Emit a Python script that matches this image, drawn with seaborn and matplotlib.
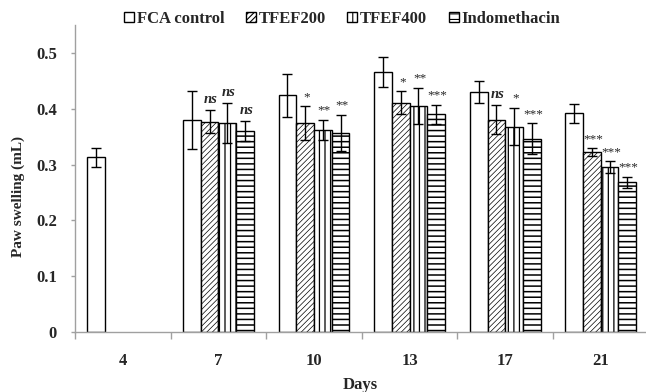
import numpy as np
import pandas as pd
import matplotlib
matplotlib.use("Agg")
import matplotlib.pyplot as plt
import seaborn as sns

# Data
days = ["4", "7", "10", "13", "17", "21"]
groups = ["FCA control", "TFEF200", "TFEF400", "Indomethacin"]

fca_mean = [0.313, 0.380, 0.424, 0.466, 0.430, 0.392]
fca_err = [0.017, 0.052, 0.039, 0.027, 0.020, 0.017]
tfef200_mean = [np.nan, 0.377, 0.374, 0.411, 0.380, 0.322]
tfef200_err = [np.nan, 0.020, 0.030, 0.020, 0.026, 0.007]
tfef400_mean = [np.nan, 0.374, 0.362, 0.405, 0.368, 0.295]
tfef400_err = [np.nan, 0.036, 0.018, 0.032, 0.033, 0.011]
indo_mean = [np.nan, 0.360, 0.357, 0.390, 0.346, 0.268]
indo_err = [np.nan, 0.018, 0.032, 0.017, 0.028, 0.010]

fca_sig = [None, None, None, None, None, None]
tfef200_sig = [None, "ns", "*", "*", "ns", "***"]
tfef400_sig = [None, "ns", "**", "**", "*", "***"]
indo_sig = [None, "ns", "**", "***", "***", "***"]

means = [fca_mean, tfef200_mean, tfef400_mean, indo_mean]
errs = [fca_err, tfef200_err, tfef400_err, indo_err]
sigs = [fca_sig, tfef200_sig, tfef400_sig, indo_sig]
hatches = ["", "//////", "|||", "---"]
hatch_lw = [0.8, 0.5, 0.9, 1.1]

rows = []
for g, m in zip(groups, means):
    for d, v in zip(days, m):
        rows.append({"Day": d, "Group": g, "Swelling": v})
df = pd.DataFrame(rows).dropna()

sns.set_style("white")
plt.rcParams['font.family'] = ['Liberation Serif', 'DejaVu Serif']
plt.rcParams['font.weight'] = 'bold'
plt.rcParams['hatch.linewidth'] = 0.8

fig = plt.figure(figsize=(6.46, 3.92), dpi=100)
ax = fig.add_axes([75 / 646, 60 / 392, 571 / 646, 307 / 392])

sns.barplot(data=df, x="Day", y="Swelling", hue="Group", order=days,
            hue_order=groups, width=0.74, errorbar=None, legend=False,
            palette=["white"] * 4, saturation=1, edgecolor="black",
            linewidth=1.0, ax=ax)

bar_conts = list(ax.containers)
for gi, cont in enumerate(bar_conts):
    for bar in cont:
        bar.set_hatch(hatches[gi])
        if hasattr(bar, "set_hatch_linewidth"):
            bar.set_hatch_linewidth(hatch_lw[gi])
        xc = bar.get_x() + bar.get_width() / 2
        h = bar.get_height()
        di = int(round(xc))
        e = errs[gi][di]
        ax.errorbar(xc, h, yerr=e, color="black", lw=1, capsize=3.5,
                    capthick=1, zorder=5)
        s = sigs[gi][di]
        if s == "ns":
            ax.text(xc + 0.015, h + e + 0.008, s, ha="center", va="bottom",
                    fontsize=10.5, style="italic", fontweight="bold", zorder=6)
        elif s:
            ax.text(xc + 0.015, h + e + 0.006, s, ha="center", va="bottom",
                    fontsize=9.5, fontweight="normal", zorder=6)

ax.set_xlim(-0.5, -0.5 + 571 / 95.6)
ax.set_ylim(0, 0.55)
ax.set_yticks([0, 0.1, 0.2, 0.3, 0.4, 0.5])
ax.set_yticklabels(["0", "0.1", "0.2", "0.3", "0.4", "0.5"], fontsize=12,
                   fontweight="bold")
ax.set_xticks(np.arange(len(days)))
ax.set_xticklabels(days, fontsize=12, fontweight="bold")
ax.set_xticks(np.arange(len(days)) - 0.5, minor=True)
ax.tick_params(axis="x", which="major", length=0, pad=15)
ax.tick_params(axis="x", which="minor", length=5, color="#a0a0a0", width=1,
               direction="out", bottom=True)
ax.tick_params(axis="y", length=3, color="#a0a0a0", width=1, left=True,
               direction="out", pad=10)
ax.set_xlabel("Days", fontsize=12, fontweight="bold", labelpad=6)
ax.set_ylabel("Paw swelling (mL)", fontsize=11, fontweight="bold")
ax.yaxis.set_label_coords(-0.088, 0.44)

for side in ["top", "right"]:
    ax.spines[side].set_visible(False)
for side in ["left", "bottom"]:
    ax.spines[side].set_color("#a0a0a0")
    ax.spines[side].set_linewidth(1)

handles = [cont[0] for cont in bar_conts]
fig.legend(handles, groups, loc="center", bbox_to_anchor=(342 / 646, 1 - 19 / 392),
           ncol=4, frameon=False, handlelength=0.6,
           handleheight=0.6, handletextpad=0.15, columnspacing=1.3,
           prop={"weight": "bold", "size": 12})

fig.savefig("out.png", dpi=100)
